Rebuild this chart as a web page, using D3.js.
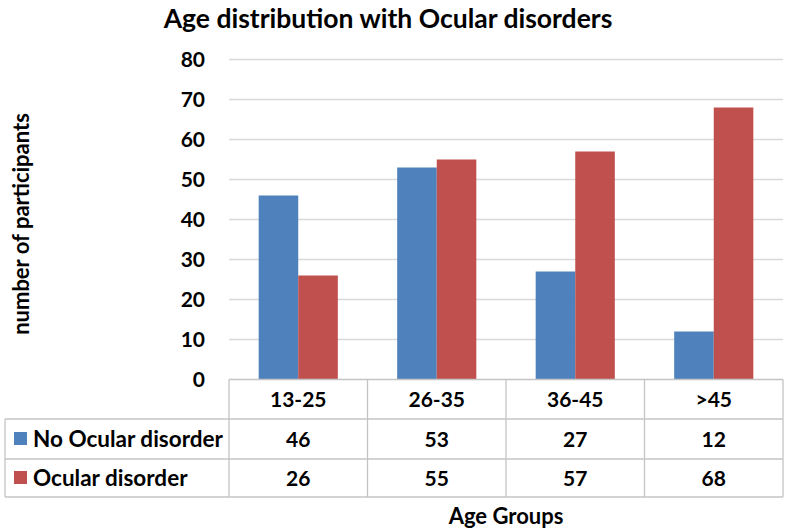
<!DOCTYPE html>
<html>
<head>
<meta charset="utf-8">
<script src="https://cdn.jsdelivr.net/npm/d3@7"></script>
<style>
  body { margin: 0; background: #fff; }
  text { font-family: Lato, "Open Sans", sans-serif; font-weight: bold; fill: #000; }
</style>
</head>
<body>
<svg id="chart" width="787" height="531"></svg>
<script>
const categories = ["13-25", "26-35", "36-45", ">45"];
const seriesNames = ["No Ocular disorder", "Ocular disorder"];
const noOcular = [46, 53, 27, 12];
const ocular = [26, 55, 57, 68];
const yTicks = [0, 10, 20, 30, 40, 50, 60, 70, 80];
const colors = ["#4f81bd", "#c0504d"];

const svg = d3.select("#chart");
const plotLeft = 229, plotRight = 783, plotTop = 59.5, base = 379.5;
const rowH = [39.5, 40, 38]; // header, row1, row2
const tableLeft = 5;
const gridColor = "#d9d9d9", tableColor = "#c4c4c4";

const y = d3.scaleLinear().domain([0, 80]).range([base, plotTop]);
const x0 = d3.scaleBand().domain(categories).range([plotLeft, plotRight]).padding(0);
const x1 = d3.scaleBand().domain(seriesNames).range([0, x0.bandwidth()])
  .paddingInner(0).paddingOuter(0.75);

// title
svg.append("text")
  .attr("x", 388).attr("y", 28)
  .attr("text-anchor", "middle")
  .style("font-size", "26.5px")
  .text("Age distribution with Ocular disorders");

// gridlines
svg.append("g").selectAll("line")
  .data(yTicks.filter(d => d > 0))
  .join("line")
  .attr("x1", plotLeft).attr("x2", plotRight)
  .attr("y1", d => y(d)).attr("y2", d => y(d))
  .attr("stroke", gridColor).attr("stroke-width", 1.3);

// y axis labels
const yAxis = d3.axisLeft(y).tickValues(yTicks).tickSize(0).tickPadding(24);
const ya = svg.append("g").attr("transform", `translate(${plotLeft},0)`).call(yAxis);
ya.select(".domain").remove();
ya.selectAll("text")
  .style("font-family", "Lato, sans-serif").style("font-weight", "bold")
  .style("font-size", "21px").attr("fill", "#000");

// bars
const rows = [noOcular, ocular];
const g = svg.append("g");
rows.forEach((vals, si) => {
  g.selectAll(".bar" + si)
    .data(vals)
    .join("rect")
    .attr("class", "bar" + si)
    .attr("x", (d, i) => x0(categories[i]) + x1(seriesNames[si]))
    .attr("y", d => y(d))
    .attr("width", x1.bandwidth())
    .attr("height", d => base - y(d))
    .attr("fill", colors[si]);
});

// data table
const t = svg.append("g").attr("fill", "none").attr("stroke", tableColor).attr("stroke-width", 1.3);
const r1 = base + rowH[0], r2 = r1 + rowH[1], r3 = r2 + rowH[2];
t.append("line").attr("x1", plotLeft).attr("x2", plotRight).attr("y1", base).attr("y2", base);
t.append("line").attr("x1", tableLeft).attr("x2", plotRight).attr("y1", r1).attr("y2", r1);
t.append("line").attr("x1", tableLeft).attr("x2", plotRight).attr("y1", r2).attr("y2", r2);
t.append("line").attr("x1", tableLeft).attr("x2", plotRight).attr("y1", r3).attr("y2", r3);
t.append("line").attr("x1", tableLeft).attr("x2", tableLeft).attr("y1", r1).attr("y2", r3);
t.selectAll(".vdiv")
  .data(categories.map(c => x0(c)).concat([plotRight]))
  .join("line")
  .attr("class", "vdiv")
  .attr("x1", d => d).attr("x2", d => d)
  .attr("y1", base).attr("y2", r3);

// header labels
svg.append("g").selectAll("text")
  .data(categories)
  .join("text")
  .attr("x", d => x0(d) + x0.bandwidth() / 2)
  .attr("y", base + rowH[0] / 2 + 7.5)
  .attr("text-anchor", "middle")
  .style("font-size", "21px")
  .text(d => d);

// rows
const rowTops = [r1, r2];
rows.forEach((vals, si) => {
  const cy = rowTops[si] + rowH[si + 1] / 2;
  svg.append("rect")
    .attr("x", 14).attr("y", cy - 7)
    .attr("width", 13).attr("height", 13)
    .attr("fill", colors[si]);
  svg.append("text")
    .attr("x", 33).attr("y", cy + 7.5)
    .style("font-size", "22.5px")
    .text(seriesNames[si]);
  svg.append("g").selectAll("text")
    .data(vals)
    .join("text")
    .attr("x", (d, i) => x0(categories[i]) + x0.bandwidth() / 2)
    .attr("y", cy + 7.5)
    .attr("text-anchor", "middle")
    .style("font-size", "21px")
    .text(d => d);
});

// axis titles
svg.append("text")
  .attr("x", 506).attr("y", 524)
  .attr("text-anchor", "middle")
  .style("font-size", "22px")
  .text("Age Groups");

svg.append("text")
  .attr("transform", "translate(29,224) rotate(-90)")
  .attr("text-anchor", "middle")
  .style("font-size", "22px")
  .text("number of participants");
</script>
</body>
</html>
